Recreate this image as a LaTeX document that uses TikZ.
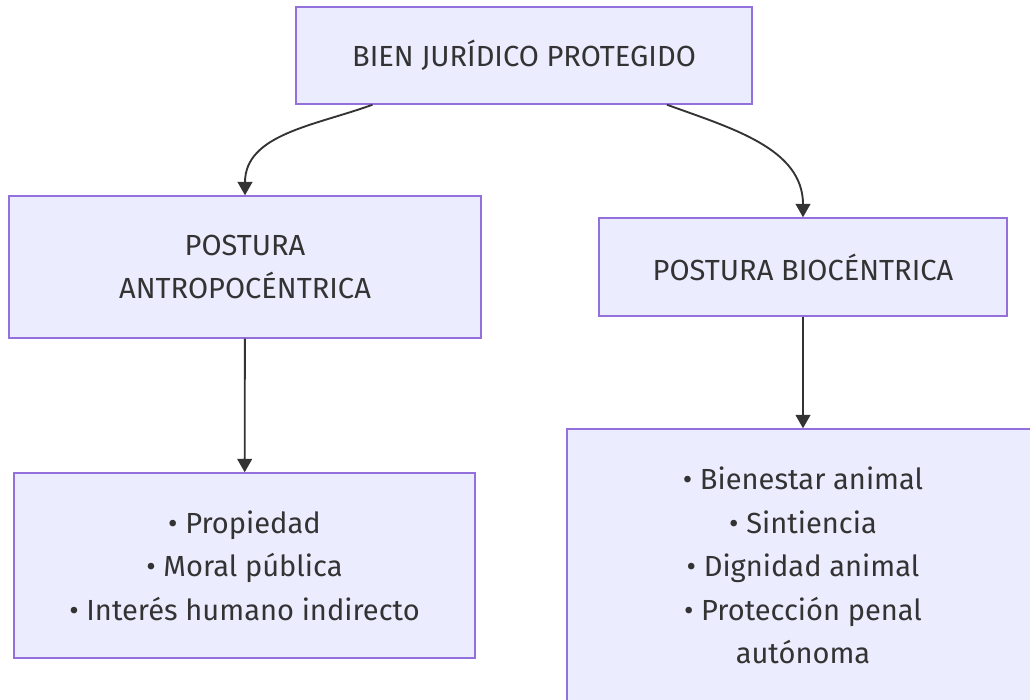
\documentclass[tikz,border=0pt]{standalone}
\usepackage{fontspec}
\setmainfont{Fira Sans}
\usetikzlibrary{arrows.meta}
\definecolor{boxfill}{HTML}{ECECFF}
\definecolor{boxline}{HTML}{9370DB}
\definecolor{inkgray}{HTML}{333333}
\tikzset{
  box/.style={draw=boxline, fill=boxfill, line width=1.1pt, align=center, inner sep=0pt,
    text=inkgray, font=\fontsize{21.8}{32.6}\selectfont},
  arr/.style={draw=inkgray, line width=1.4pt, -{Triangle[length=10pt,width=11pt]}}
}
\begin{document}
\begin{tikzpicture}[x=0.75pt, y=-0.75pt]
    \fill[white] (0,0) rectangle (1030,699);
    \useasboundingbox (0,0) rectangle (1030,699);

    \node[box, minimum width=342pt, minimum height=72.75pt] (bien) at (524,55.5) {BIEN JURÍDICO PROTEGIDO};
    \node[box, minimum width=354pt, minimum height=106.5pt] (antropo) at (245,267) {POSTURA\\ ANTROPOCÉNTRICA};
    \node[box, minimum width=306pt, minimum height=73.5pt] (bio) at (803,267) {POSTURA BIOCÉNTRICA};
    \node[box, minimum width=345.75pt, minimum height=138.75pt] (bienesA) at (244.5,565.5) {• Propiedad\\ • Moral pública\\ • Interés humano indirecto};
    \node[box, minimum width=354pt, minimum height=204.75pt] (bienesB) at (803,565.5) {• Bienestar animal\\ • Sintiencia\\ • Dignidad animal\\ • Protección penal\\ autónoma};

    \draw[arr] (bien.198.5) to[out=-160, in=90] (antropo.north);
    \draw[arr] (bien.341.6) to[out=-20, in=90] (bio.north);
    \draw[arr] (antropo) -- (bienesA);
    \draw[arr] (bio) -- (bienesB);
\end{tikzpicture}
\end{document}
